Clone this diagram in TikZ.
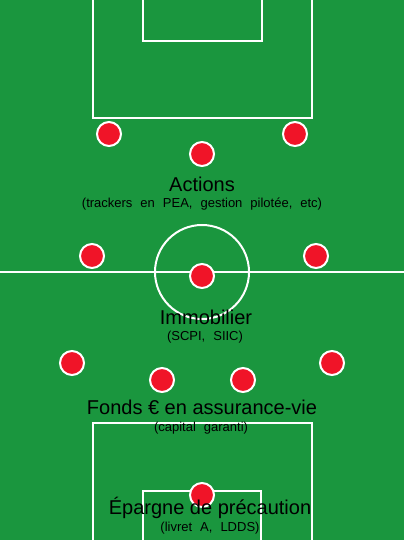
\documentclass[tikz,border=0pt]{standalone}
\usepackage{fontspec}
\setmainfont{Liberation Sans}
\definecolor{pitch}{RGB}{26,150,62}
\definecolor{playerred}{RGB}{240,20,40}
\newcommand{\widespaces}{\spaceskip=8pt plus 1pt\relax}
\begin{document}
\begin{tikzpicture}[x=1pt,y=-1pt,
  fieldline/.style={draw=white,line width=2pt},
  player/.style={circle,fill=playerred,draw=white,line width=2pt,minimum size=24pt,inner sep=0pt},
  title/.style={anchor=base,font=\fontsize{20}{22}\selectfont,text=black,inner sep=0pt},
  subtitle/.style={anchor=base,font=\fontsize{13}{15}\selectfont\widespaces,text=black,inner sep=0pt}]
\fill[pitch] (0,0) rectangle (404,540);
\useasboundingbox (0,0) rectangle (404,540);
% top area
\draw[fieldline] (93,-2) -- (93,118) -- (312,118) -- (312,-2);
\draw[fieldline] (143,-2) -- (143,41) -- (262,41) -- (262,-2);
% halfway
\draw[fieldline] (-2,272) -- (406,272);
\draw[fieldline] (202,272) circle (47);
% bottom area
\draw[fieldline] (93,542) -- (93,423) -- (312,423) -- (312,542);
\draw[fieldline] (143,542) -- (143,491) -- (261,491) -- (261,542);
% players
\node[player] (p1) at (109,134) {};
\node[player] (p2) at (295,134) {};
\node[player] (p3) at (202,154) {};
\node[player] (p4) at (92,256) {};
\node[player] (p5) at (316,256) {};
\node[player] (p6) at (202,276) {};
\node[player] (p7) at (72,363) {};
\node[player] (p8) at (332,363) {};
\node[player] (p9) at (162,380) {};
\node[player] (p10) at (243,380) {};
\node[player] (p11) at (202,495) {};
% labels
\node[title] (t1) at (202,191) {Actions};
\node[subtitle] (s1) at (202,207) {(trackers en PEA, gestion pilotée, etc)};
\node[title] (t2) at (206,324) {Immobilier};
\node[subtitle] (s2) at (205,340) {(SCPI, SIIC)};
\node[title] (t3) at (202,414) {Fonds € en assurance-vie};
\node[subtitle] (s3) at (201,431) {(capital garanti)};
\node[title] (t4) at (210,514) {Épargne de précaution};
\node[subtitle] (s4) at (210,531) {(livret A, LDDS)};
\end{tikzpicture}
\end{document}
